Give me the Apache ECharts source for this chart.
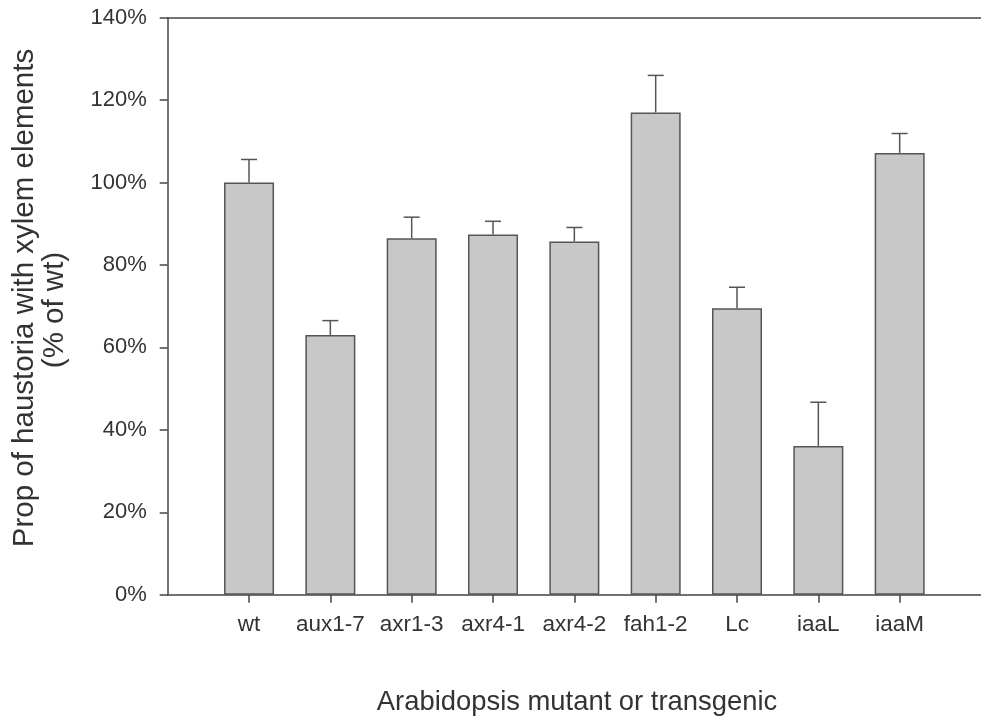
<!DOCTYPE html>
<html>
<head>
<meta charset="utf-8">
<script src="https://cdn.jsdelivr.net/npm/echarts@6/dist/echarts.min.js"></script>
<style>
html,body{margin:0;padding:0;background:#fff;}
#chart{width:981px;height:719px;}
</style>
</head>
<body>
<div id="chart"></div>
<script>
// Data
const categories = ['wt', 'aux1-7', 'axr1-3', 'axr4-1', 'axr4-2', 'fah1-2', 'Lc', 'iaaL', 'iaaM'];
const means = [100, 63.0, 86.5, 87.4, 85.7, 117.0, 69.5, 36.1, 107.2];
const errors = [5.6, 3.5, 5.1, 3.2, 3.4, 9.0, 5.1, 10.6, 4.7];
const yTicks = [0, 20, 40, 60, 80, 100, 120, 140];

const axisCats = [''].concat(categories, ['']);
const barData = ['-'].concat(means, ['-']);
const errData = categories.map((c, i) => [i + 1, means[i], means[i] + errors[i]]);

const FONT = '"Liberation Sans", Arial, sans-serif';
const INK = '#333';

const chart = echarts.init(document.getElementById('chart'));
chart.setOption({
  animation: false,
  backgroundColor: '#fff',
  grid: { left: 167.7, top: 17.7, bottom: 124.3, right: -10.7, containLabel: false },
  xAxis: [{
    type: 'category',
    data: axisCats,
    boundaryGap: false,
    axisLine: { show: true, lineStyle: { color: '#444', width: 1.5 } },
    axisTick: { show: true, length: 8, lineStyle: { color: '#444', width: 1.5 },
      interval: (idx, val) => val !== '' },
    axisLabel: { show: true, margin: 19, fontSize: 22.5, color: INK, fontFamily: FONT,
      interval: (idx, val) => val !== '' },
    splitLine: { show: false }
  }, {
    type: 'category',
    data: axisCats,
    boundaryGap: false,
    position: 'top',
    axisLine: { show: true, lineStyle: { color: '#444', width: 1.5 } },
    axisTick: { show: false },
    axisLabel: { show: false },
    splitLine: { show: false }
  }],
  yAxis: {
    type: 'value',
    min: yTicks[0],
    max: yTicks[yTicks.length - 1],
    interval: 20,
    axisLine: { show: true, lineStyle: { color: '#444', width: 1.5 } },
    axisTick: { show: true, length: 8, lineStyle: { color: '#444', width: 1.5 } },
    axisLabel: { margin: 21, fontSize: 22, color: INK, fontFamily: FONT, formatter: '{value}%' },
    splitLine: { show: false }
  },
  series: [{
    type: 'bar',
    data: barData,
    barWidth: 50,
    itemStyle: { color: '#c8c8c8', borderColor: '#555', borderWidth: 1.5 },
    z: 2
  }, {
    type: 'custom',
    data: errData,
    z: 3,
    renderItem: function (params, api) {
      const x = api.value(0);
      const base = api.coord([x, api.value(1)]);
      const top = api.coord([x, api.value(2)]);
      const style = { stroke: '#555', lineWidth: 1.5 };
      return {
        type: 'group',
        children: [
          { type: 'line', shape: { x1: base[0], y1: base[1], x2: top[0], y2: top[1] }, style: style },
          { type: 'line', shape: { x1: top[0] - 8, y1: top[1], x2: top[0] + 8, y2: top[1] }, style: style }
        ]
      };
    }
  }],
  graphic: [{
    type: 'text',
    x: 25, y: 298,
    rotation: Math.PI / 2,
    style: { text: 'Prop of haustoria with xylem elements', font: '29.5px ' + FONT, fill: INK,
      textAlign: 'center', textVerticalAlign: 'middle' }
  }, {
    type: 'text',
    x: 55, y: 310,
    rotation: Math.PI / 2,
    style: { text: '(% of wt)', font: '29.5px ' + FONT, fill: INK,
      textAlign: 'center', textVerticalAlign: 'middle' }
  }, {
    type: 'text',
    x: 577, y: 702,
    style: { text: 'Arabidopsis mutant or transgenic', font: '27.4px ' + FONT, fill: INK,
      textAlign: 'center', textVerticalAlign: 'middle' }
  }]
});
</script>
</body>
</html>
